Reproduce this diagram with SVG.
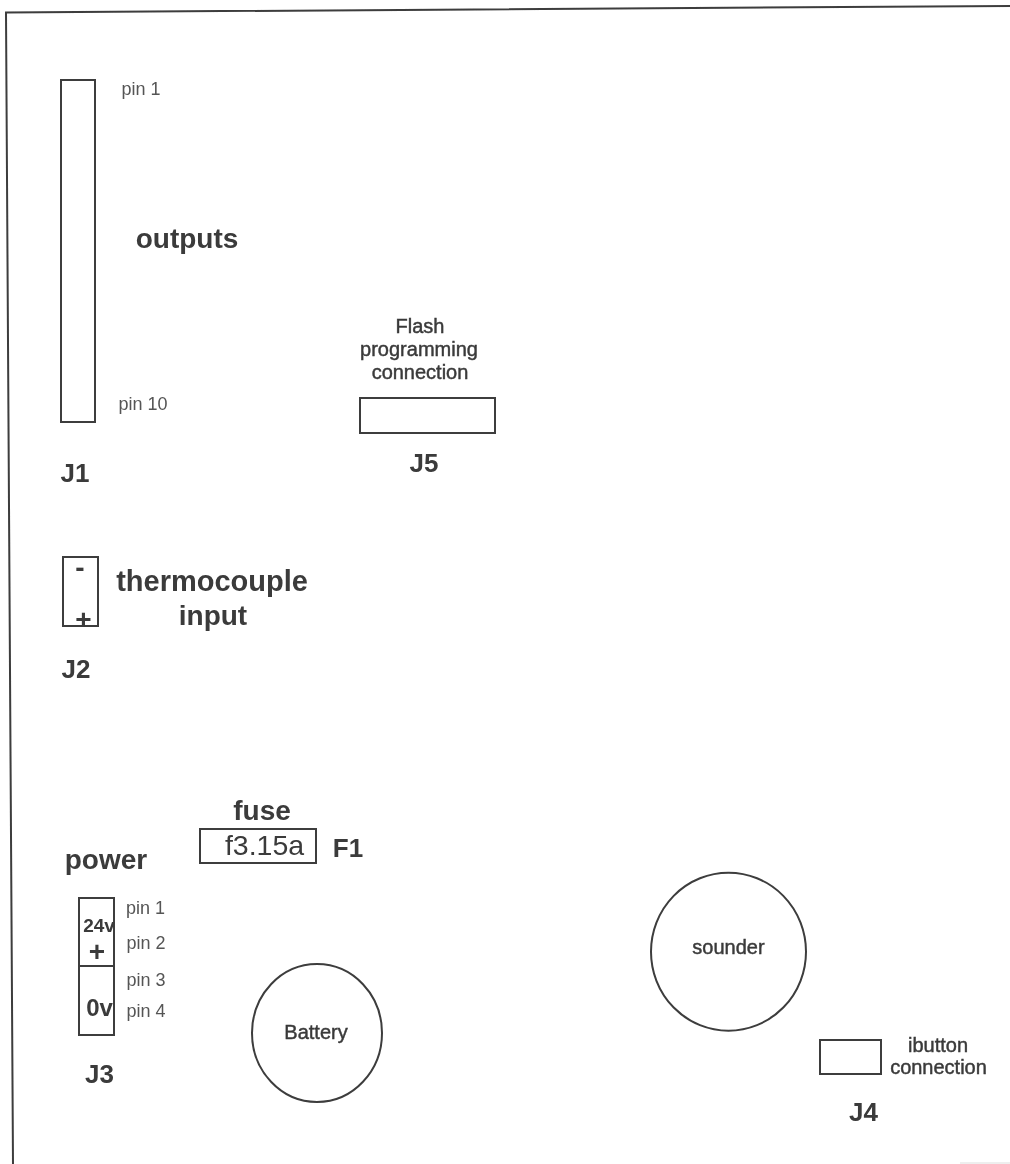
<svg xmlns="http://www.w3.org/2000/svg" width="1010" height="1164" viewBox="0 0 1010 1164">
<style>
text{font-family:"Liberation Sans",Arial,sans-serif;fill:#3a3a3a;text-anchor:middle}
.s{fill:none;stroke:#3c3c3c;stroke-width:2}
.p{font-size:18px;fill:#555}
.m{font-size:20px;stroke:#3a3a3a;stroke-width:.45}
.b{font-size:28px;font-weight:bold}
.j{font-size:26px;font-weight:bold}
</style>
<defs><filter id="scan" x="0" y="0" width="100%" height="100%" filterUnits="userSpaceOnUse"><feGaussianBlur stdDeviation="0.5"/></filter></defs>
<rect width="1010" height="1164" fill="#fff"/>
<g filter="url(#scan)">
<g id="frame"><path class="s" d="M1010 6L6 12.5L13 1164"/><path d="M960 1163H1010" stroke="#ddd" fill="none"/></g>
<g id="J1"><rect class="s" x="61" y="80" width="34" height="342"/><text class="p" x="141" y="95">pin 1</text><text class="p" x="143" y="410">pin 10</text><text class="b" x="187" y="248">outputs</text><text class="j" x="75" y="482">J1</text></g>
<g id="J5"><rect class="s" x="360" y="398" width="135" height="35"/><text class="m" x="420" y="333">Flash</text><text class="m" x="419" y="356">programming</text><text class="m" x="420" y="379">connection</text><text class="j" x="424" y="472">J5</text></g>
<g id="J2"><rect class="s" x="63" y="557" width="35" height="69"/><text class="b" x="80" y="577">-</text><text class="b" x="83.5" y="629">+</text><text class="b" x="212" y="591" style="font-size:29px">thermocouple</text><text class="b" x="213" y="625">input</text><text class="j" x="76" y="678">J2</text></g>
<g id="F1"><rect class="s" x="200" y="829" width="116" height="34"/><text x="264.5" y="855" style="font-size:28.5px">f3.15a</text><text class="b" x="262" y="820">fuse</text><text class="j" x="348" y="857">F1</text></g>
<g id="J3"><rect class="s" x="79" y="898" width="35" height="137"/><line class="s" x1="79" y1="966" x2="114" y2="966"/><text class="b" x="106" y="869">power</text><text x="99" y="932" style="font-size:19px;font-weight:bold">24v</text><text class="b" x="97" y="961">+</text><text x="99.5" y="1016" style="font-size:24px;font-weight:bold">0v</text><text class="p" x="145.5" y="914">pin 1</text><text class="p" x="146" y="949">pin 2</text><text class="p" x="146" y="986">pin 3</text><text class="p" x="146" y="1017">pin 4</text><text class="j" x="99.5" y="1083">J3</text></g>
<g id="Battery"><ellipse class="s" cx="317" cy="1033" rx="65" ry="69"/><text class="m" x="316" y="1039">Battery</text></g>
<g id="sounder"><ellipse class="s" cx="728.5" cy="951.7" rx="77.5" ry="79"/><text class="m" x="728.5" y="954">sounder</text></g>
<g id="J4"><rect class="s" x="820" y="1040" width="61" height="34"/><text class="m" x="938" y="1052">ibutton</text><text class="m" x="938.5" y="1074">connection</text><text class="j" x="863.5" y="1121">J4</text></g>
<g id="connectors"></g>
</g>
</svg>
